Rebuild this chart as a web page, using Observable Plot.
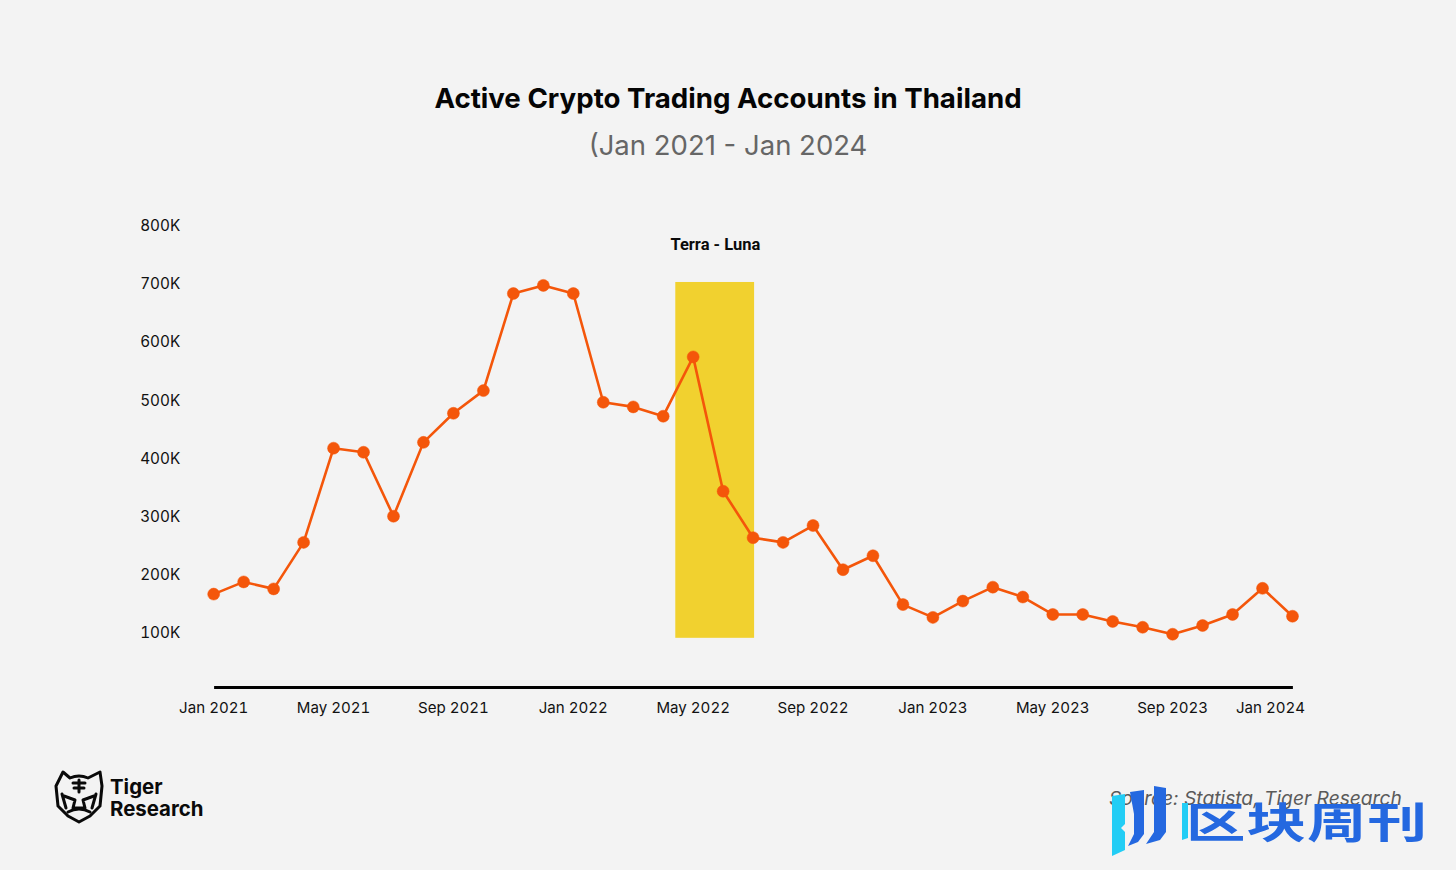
<!DOCTYPE html>
<html>
<head>
<meta charset="utf-8">
<script src="https://cdn.jsdelivr.net/npm/d3@7"></script>
<script src="https://cdn.jsdelivr.net/npm/@observablehq/plot@0.6"></script>
<style>
html,body{margin:0;padding:0;background:#f3f3f3;width:1456px;height:870px;overflow:hidden;font-family:Inter,sans-serif}
#page{position:relative;width:1456px;height:870px}
#head{height:190px;position:relative}
#title{position:absolute;left:0;width:1456px;top:78.5px;text-align:center;font:700 27.67px/38px Inter,sans-serif;color:#050505}
#subtitle{position:absolute;left:0;width:1456px;top:125.5px;text-align:center;font:400 27.5px/38px Inter,sans-serif;color:#666}
#chart svg{display:block;background:transparent}
#brand{position:absolute;left:110px;top:776px;font:700 20.4px/22px Inter,sans-serif;color:#0a0a0a}
#source{position:absolute;left:1109px;top:785.5px;font:italic 400 19.2px/24px Inter,sans-serif;color:#5a5a5a;white-space:nowrap}
#mark{position:absolute;left:1186px;top:782px;font:700 59.5px/76px "Noto Sans CJK SC",sans-serif;color:#2468e0;letter-spacing:1px;white-space:nowrap;transform:scaleY(.71);transform-origin:0 50%}
.deco{position:absolute}
</style>
</head>
<body>
<div id="page">
  <div id="head">
    <div id="title">Active Crypto Trading Accounts in Thailand</div>
    <div id="subtitle">(Jan 2021 - Jan 2024</div>
  </div>
  <div id="chart"></div>
  <svg class="deco" style="left:54px;top:770px" width="50" height="54" viewBox="0 0 50 54">
    <g fill="none" stroke="#0a0a0a" stroke-width="3" stroke-linejoin="round" stroke-linecap="round">
      <path d="M9 2 L16 8 Q25 4 34 8 L46 2 L48 16 L46 36 L36 46 L25 52 L14 46 L4 36 L2 16 Z"/>
      <path d="M25 10V22M19 13H31M20 18H30"/>
      <path d="M10 26L21 30L19 38H31L29 30L40 26"/>
      <path d="M14 42Q25 36 36 42"/>
      <path d="M8 24L12 38M42 24L38 38"/>
    </g>
  </svg>
  <div id="brand">Tiger<br>Research</div>
  <div id="source">Source: Statista, Tiger Research</div>
  <svg class="deco" style="left:1108px;top:784px" width="84" height="74" viewBox="0 0 84 74">
    <polygon points="4,12 17,10 17,40 13,44 17,48 17,66 4,72" fill="#22cdf5"/>
    <polygon points="22,8 36,6 36,50 30,58 20,62 26,50 26,30" fill="#2468e0"/>
    <polygon points="46,2 58,4 58,48 52,56 38,60 46,48" fill="#2468e0"/>
    <polygon points="74,19 80,19 80,54 74,56" fill="#22cdf5"/>
  </svg>
  <div id="mark">区块周刊</div>
</div>
<script>
const months = ["Jan 2021","Feb 2021","Mar 2021","Apr 2021","May 2021","Jun 2021","Jul 2021","Aug 2021","Sep 2021","Oct 2021","Nov 2021","Dec 2021",
  "Jan 2022","Feb 2022","Mar 2022","Apr 2022","May 2022","Jun 2022","Jul 2022","Aug 2022","Sep 2022","Oct 2022","Nov 2022","Dec 2022",
  "Jan 2023","Feb 2023","Mar 2023","Apr 2023","May 2023","Jun 2023","Jul 2023","Aug 2023","Sep 2023","Oct 2023","Nov 2023","Dec 2023","Jan 2024"];
const accounts = [166,187,175,255,417,410,300,427,477,516,683,697,683,496,488,472,574,343,263,255,284,208,232,148,126,154,178,161,131,131,119,109,97,112,131,176,128];
const yTicks = [100,200,300,400,500,600,700,800];
const xTicks = [0,4,8,12,16,20,24,28,32];
const lastTick = [36];
const eventLabel = "Terra - Luna";
const eventSpan = [{x1:15.42,x2:18.05,y1:90,y2:702}];
const baseline = 5.4;
const rows = months.map((m,i)=>({i,m,v:accounts[i]}));

const chart = Plot.plot({
  width:1456,height:540,
  marginLeft:213.2,marginRight:164,marginTop:0,marginBottom:0,
  style:{background:"transparent",fontFamily:"Inter, sans-serif"},
  x:{domain:[0,36],label:null},
  y:{domain:[0,800],range:[500.14,35],label:null},
  marks:[
    Plot.rect(eventSpan,{x1:"x1",x2:"x2",y1:"y1",y2:"y2",fill:"#f1d12f"}),
    Plot.ruleY([baseline],{x1:0.03,x2:36.03,stroke:"#000",strokeWidth:3}),
    Plot.axisY({ticks:yTicks,tickSize:0,tickPadding:0,dx:-33.5,dy:0.7,label:null,tickFormat:d=>d+"K",fontSize:15.3,fill:"#111",textAnchor:"end"}),
    Plot.axisX({ticks:xTicks,anchor:"bottom",tickSize:0,label:null,tickFormat:i=>months[i],fontSize:15.1,fill:"#111",frameAnchor:"bottom",dy:-37}),
    Plot.axisX({ticks:lastTick,anchor:"bottom",tickSize:0,label:null,tickFormat:i=>months[i],fontSize:15.1,fill:"#111",frameAnchor:"bottom",dy:-37,dx:-22}),
    Plot.line(rows,{x:"i",y:"v",stroke:"#f4560a",strokeWidth:2.6,curve:"linear"}),
    Plot.dot(rows,{x:"i",y:"v",r:6,fill:"#f4560a",stroke:"#f4560a",strokeWidth:0.5}),
    Plot.text([eventLabel],{x:16.74,y:767,text:d=>d,fontSize:16.5,fontWeight:700,fill:"#0a0a0a",fontFamily:"Roboto, sans-serif"})
  ]
});
document.getElementById("chart").appendChild(chart);
</script>
</body>
</html>
